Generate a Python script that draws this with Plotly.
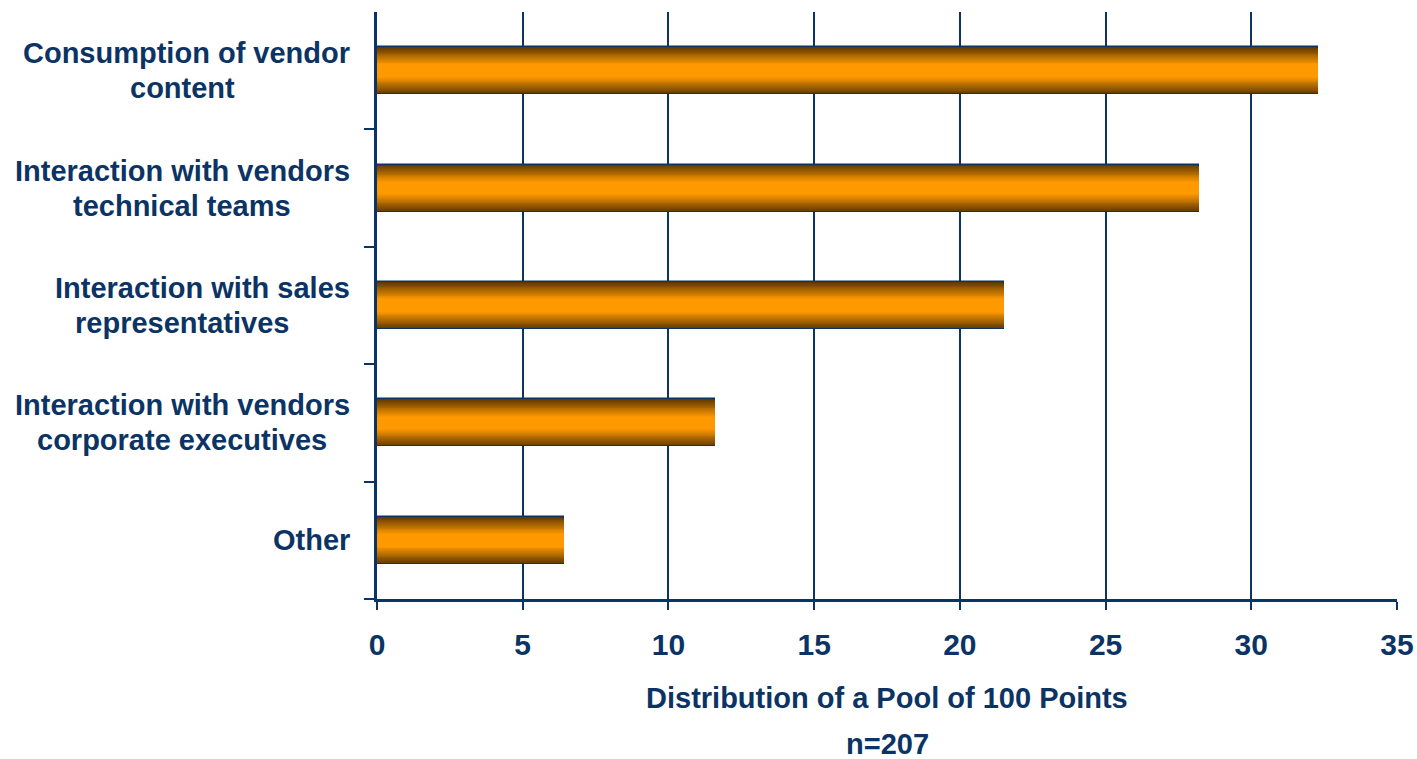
import plotly.graph_objects as go

# Survey results: share of a 100-point pool given to each vendor touchpoint
categories = [
    "Consumption of vendor<br>content",
    "Interaction with vendors<br>technical teams",
    "Interaction with sales<br>representatives",
    "Interaction with vendors<br>corporate executives",
    "Other",
]
points = [32.3, 28.2, 21.5, 11.6, 6.4]
x_ticks = [0, 5, 10, 15, 20, 25, 30, 35]
x_title = "Distribution of a Pool of 100 Points"
sample_note = "n=207"

NAVY = "#0b3465"
FONT = "Liberation Sans, Arial, sans-serif"
EDGE = (98, 58, 0)
CENTER = (255, 153, 0)
BAR_WIDTH = 0.4
LAYERS = 26
LINE_GAP = 35        # px between the two lines of a category label
LABEL_RIGHT = -25    # px from the plot's left edge to the right end of the labels
LABEL_MIDDLE = -195  # px from the plot's left edge to the centre of the label block

fig = go.Figure()

# Layered bars of shrinking thickness give each bar a dark-to-orange-to-dark sheen
for k in range(LAYERS):
    t = k / (LAYERS - 1)
    s = min(1.0, t / 0.75)
    rgb = tuple(round(EDGE[i] + (CENTER[i] - EDGE[i]) * s) for i in range(3))
    fig.add_trace(
        go.Bar(
            x=points,
            y=list(range(len(categories))),
            orientation="h",
            width=BAR_WIDTH * (1 - k / LAYERS),
            marker=dict(
                color="rgb(%d,%d,%d)" % rgb,
                line=dict(color=NAVY if k == 0 else "rgba(0,0,0,0)", width=1.5 if k == 0 else 0),
            ),
            hoverinfo="skip",
            showlegend=False,
        )
    )

# Category labels: one annotation per line for tighter leading; the longest line
# is right-aligned against the axis and shorter lines are centred beneath it
annotations = []
for i, label in enumerate(categories):
    lines = label.split("<br>")
    n = len(lines)
    widest = max(len(l) for l in lines)
    for j, line in enumerate(lines):
        is_widest = len(line) == widest
        annotations.append(
            dict(
                text="<b>%s</b>" % line,
                xref="paper",
                x=0,
                xshift=LABEL_RIGHT if is_widest else LABEL_MIDDLE,
                yref="y",
                y=i,
                yshift=((n - 1) / 2 - j) * LINE_GAP,
                xanchor="right" if is_widest else "center",
                yanchor="middle",
                showarrow=False,
                font=dict(size=29, color=NAVY, family=FONT),
            )
        )

annotations.append(
    dict(text="<b>%s</b>" % x_title, xref="paper", yref="paper", x=0.5, y=-0.168,
         xanchor="center", yanchor="middle", showarrow=False,
         font=dict(size=29, color=NAVY, family=FONT))
)
annotations.append(
    dict(text="<b>%s</b>" % sample_note, xref="paper", yref="paper", x=0.5, y=-0.247,
         xanchor="center", yanchor="middle", showarrow=False,
         font=dict(size=29, color=NAVY, family=FONT))
)

fig.update_layout(
    width=1417,
    height=759,
    margin=dict(l=377, r=20, t=12, b=160),
    paper_bgcolor="white",
    plot_bgcolor="white",
    barmode="overlay",
    bargap=0,
    annotations=annotations,
    font=dict(family=FONT, color=NAVY),
    xaxis=dict(
        range=[0, 35],
        tickvals=x_ticks,
        ticktext=["<b>%d</b>" % v for v in x_ticks],
        tickfont=dict(size=30, color=NAVY),
        ticks="outside",
        ticklen=8,
        tickwidth=2,
        tickcolor=NAVY,
        ticklabelstandoff=9,
        showgrid=True,
        gridcolor=NAVY,
        gridwidth=2,
        showline=True,
        linecolor=NAVY,
        linewidth=3,
        zeroline=False,
        automargin=False,
        fixedrange=True,
    ),
    yaxis=dict(
        type="linear",
        range=[len(categories) - 0.5, -0.5],
        tickvals=[i + 0.5 for i in range(len(categories))],
        showticklabels=False,
        ticks="outside",
        ticklen=10,
        tickwidth=2,
        tickcolor=NAVY,
        showgrid=False,
        showline=True,
        linecolor=NAVY,
        linewidth=3,
        zeroline=False,
        automargin=False,
        fixedrange=True,
    ),
)

fig.write_html("out.html")
